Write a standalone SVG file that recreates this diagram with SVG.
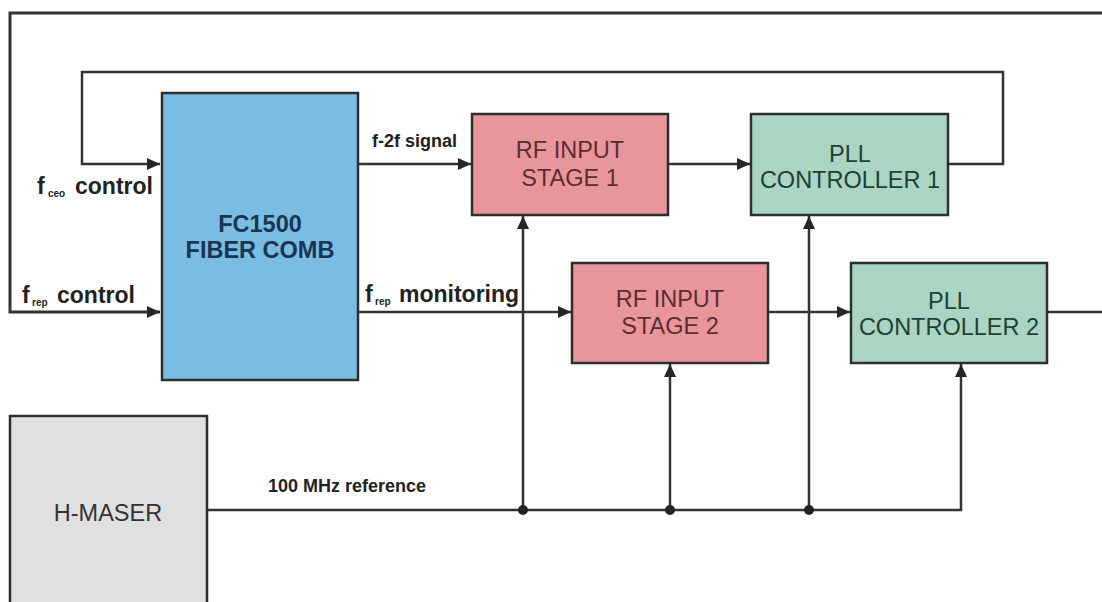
<svg xmlns="http://www.w3.org/2000/svg" width="1102" height="602" viewBox="0 0 1102 602">
<defs>
<marker id="arr" markerUnits="userSpaceOnUse" markerWidth="14" markerHeight="12" refX="13" refY="6" orient="auto">
<path d="M0,0 L13,6 L0,12 z" fill="#262626"/>
</marker>
<style>
.ln{fill:none;stroke:#333;stroke-width:2.5}
.box{stroke:#2e2e2e;stroke-width:2.5}
.bt{font-family:"Liberation Sans",Arial,sans-serif;font-size:23.5px;text-anchor:middle}
.lb{font-family:"Liberation Sans",Arial,sans-serif;font-weight:bold;fill:#222}
</style>
</defs>
<rect width="1102" height="602" fill="#ffffff"/>
<g id="connectors">
<path class="ln" d="M1102,13 H10 V312 H160" marker-end="url(#arr)" style="stroke-width:3"/>
<path class="ln" d="M948,164 H1003 V72 H82 V164 H160" marker-end="url(#arr)"/>
<path class="ln" d="M358,164 H471" marker-end="url(#arr)"/>
<path class="ln" d="M668,164 H750" marker-end="url(#arr)"/>
<path class="ln" d="M358,312 H571" marker-end="url(#arr)"/>
<path class="ln" d="M768,312 H850" marker-end="url(#arr)"/>
<path class="ln" d="M1047,312 H1102"/>
<path class="ln" d="M207,510 H961 V364" marker-end="url(#arr)"/>
<path class="ln" d="M523,510 V216" marker-end="url(#arr)"/>
<path class="ln" d="M670,510 V364" marker-end="url(#arr)"/>
<path class="ln" d="M809,510 V216" marker-end="url(#arr)"/>
<circle cx="523" cy="510" r="5" fill="#222"/>
<circle cx="670" cy="510" r="5" fill="#222"/>
<circle cx="809" cy="510" r="5" fill="#222"/>
</g>
<g id="labels">
<text class="lb" x="37" y="194" font-size="23">f<tspan x="48" y="197" font-size="10">ceo</tspan><tspan x="75" y="194" font-size="23">control</tspan></text>
<text class="lb" x="22" y="303" font-size="23">f<tspan x="32" y="306" font-size="10">rep</tspan><tspan x="57" y="303" font-size="23">control</tspan></text>
<text class="lb" x="372" y="147" font-size="18">f-2f signal</text>
<text class="lb" x="365" y="302" font-size="23">f<tspan x="375" y="305" font-size="10">rep</tspan><tspan x="399" y="302" font-size="23">monitoring</tspan></text>
<text class="lb" x="268" y="492" font-size="18">100 MHz reference</text>
</g>
<g id="fc1500">
<rect class="box" x="162" y="93" width="196" height="287" fill="#79bde3"/>
<text class="bt" x="260" y="232" font-weight="bold" fill="#1b3550">FC1500</text>
<text class="bt" x="260" y="258" font-weight="bold" fill="#1b3550">FIBER COMB</text>
</g>
<g id="rf1">
<rect class="box" x="472" y="114" width="196" height="101" fill="#e8969c"/>
<text class="bt" x="570" y="158" fill="#5a2d32">RF INPUT</text>
<text class="bt" x="570" y="186" fill="#5a2d32">STAGE 1</text>
</g>
<g id="pll1">
<rect class="box" x="751" y="114" width="197" height="101" fill="#aad5c2"/>
<text class="bt" x="850" y="162" fill="#213f35">PLL</text>
<text class="bt" x="850" y="188" fill="#213f35">CONTROLLER 1</text>
</g>
<g id="rf2">
<rect class="box" x="572" y="263" width="196" height="100" fill="#e8969c"/>
<text class="bt" x="670" y="307" fill="#5a2d32">RF INPUT</text>
<text class="bt" x="670" y="334" fill="#5a2d32">STAGE 2</text>
</g>
<g id="pll2">
<rect class="box" x="851" y="263" width="196" height="100" fill="#aad5c2"/>
<text class="bt" x="949" y="309" fill="#213f35">PLL</text>
<text class="bt" x="949" y="335" fill="#213f35">CONTROLLER 2</text>
</g>
<g id="hmaser">
<rect class="box" x="10" y="416" width="197" height="200" fill="#e0e0e0"/>
<text class="bt" x="108" y="521" fill="#333">H-MASER</text>
</g>
</svg>
